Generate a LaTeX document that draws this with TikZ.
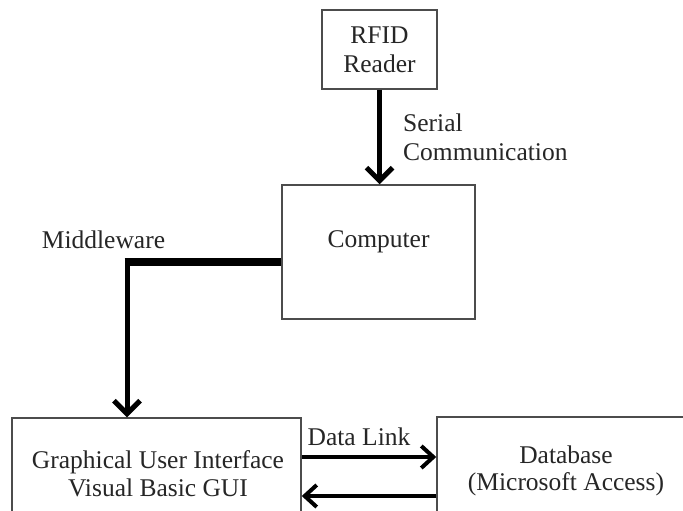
\documentclass[tikz,border=0pt]{standalone}
\usepackage{fontspec}
\setmainfont{Liberation Serif}
\usetikzlibrary{arrows.meta,calc}
\tikzset{
  box/.style={draw=black!70, line width=1.5pt, rectangle, inner sep=0pt, fill=white},
  txt/.style={text=black!85, font=\fontsize{25.5}{29}\selectfont, align=center, inner sep=0pt},
  thickarrow/.style={draw=black, line width=5pt, -{Straight Barb[length=13pt, width=26pt, line width=5pt]}},
  linkarrow/.style={draw=black, line width=4pt, -{Straight Barb[length=12pt, width=22pt, line width=4pt]}}
}
\begin{document}
\begin{tikzpicture}[x=1pt, y=-1pt]
\useasboundingbox (0,0) rectangle (683,511);
\clip (0,0) rectangle (683,511);
\fill[white] (0,0) rectangle (683,511);
% boxes
\node[box, minimum width=115pt, minimum height=79pt] (rfid) at (379.5,49.5) {};
\node[txt] (rfidtext) at (379.5,50) {RFID\\Reader};
\node[box, minimum width=193pt, minimum height=134pt] (comp) at (378.5,252) {};
\node[txt] (comptext) at (378.5,242) {Computer};
\node[box, minimum width=289pt, minimum height=110pt] (gui) at (156.5,473) {};
\node[txt, font=\fontsize{25.5}{27.5}\selectfont] (guitext) at (158,473.5) {Graphical User Interface\\Visual Basic GUI};
\node[box, minimum width=263pt, minimum height=112pt] (db) at (568.5,473) {};
\node[txt, font=\fontsize{25.5}{27.5}\selectfont] (dbtext) at (566,471) {Database\\(Microsoft Access)};
% labels
\node[txt, anchor=west, align=left] (serial) at (403,137.5) {Serial\\Communication};
\node[txt] (mw) at (103.5,240) {Middleware};
\node[txt] (dl) at (359,437) {Data Link};
% connectors
\draw[thickarrow] (rfid.south) -- (rfid.south |- comp.north);
\coordinate (mwcorner) at (127,262);
\draw[draw=black, line width=7.5pt] ($(mwcorner)+(-2.5,0)$) -- (comp.west |- mwcorner);
\draw[thickarrow] ($(mwcorner)+(0,-3.5)$) -- (mwcorner |- gui.north);
\coordinate (dly1) at (0,457);
\coordinate (dly2) at (0,496);
\draw[linkarrow] (gui.east |- dly1) -- (db.west |- dly1);
\draw[linkarrow] (db.west |- dly2) -- (gui.east |- dly2);
\end{tikzpicture}
\end{document}
